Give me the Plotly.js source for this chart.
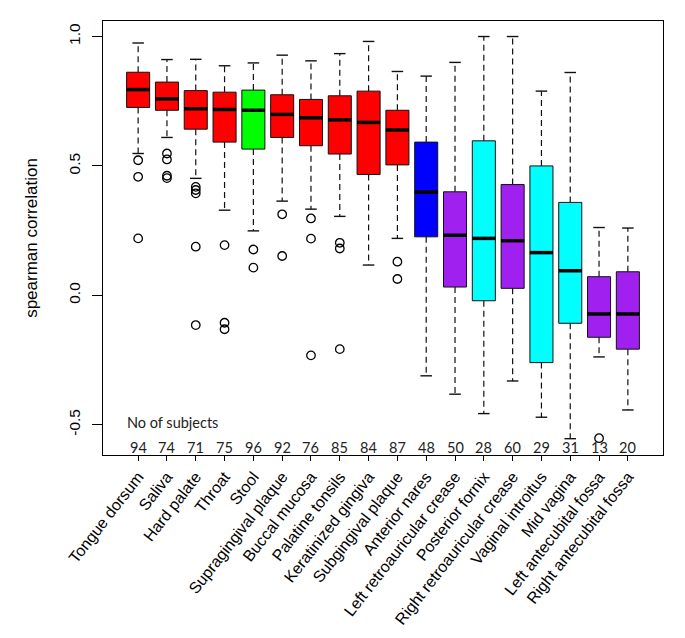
<!DOCTYPE html>
<html>
<head>
<meta charset="utf-8">
<script src="https://cdn.plot.ly/plotly-3.0.1.min.js"></script>
<style>html,body{margin:0;padding:0;background:#fff;}#chart{width:685px;height:638px;}</style>
</head>
<body>
<div id="chart"></div>
<script>
// ---- Data ----
const categories = ["Tongue dorsum","Saliva","Hard palate","Throat","Stool","Supragingival plaque",
  "Buccal mucosa","Palatine tonsils","Keratinized gingiva","Subgingival plaque","Anterior nares",
  "Left retroauricular crease","Posterior fornix","Right retroauricular crease","Vaginal introitus",
  "Mid vagina","Left antecubital fossa","Right antecubital fossa"];
const upperWhisker = [0.975,0.911,0.912,0.887,0.898,0.928,0.906,0.934,0.981,0.865,0.847,0.900,1.000,1.000,0.789,0.861,0.262,0.260];
const q3Values     = [0.862,0.824,0.791,0.785,0.793,0.775,0.757,0.771,0.789,0.715,0.592,0.400,0.597,0.428,0.500,0.359,0.072,0.091];
const medianValues = [0.795,0.759,0.721,0.718,0.715,0.699,0.686,0.678,0.668,0.639,0.399,0.232,0.220,0.211,0.165,0.095,-0.072,-0.072];
const q1Values     = [0.726,0.715,0.642,0.592,0.565,0.610,0.578,0.546,0.467,0.504,0.226,0.032,-0.021,0.027,-0.260,-0.108,-0.162,-0.208];
const lowerWhisker = [0.548,0.610,0.452,0.329,0.249,0.364,0.333,0.305,0.117,0.220,-0.311,-0.382,-0.457,-0.331,-0.471,-0.554,-0.238,-0.443];
const outliers = [
  [0.522,0.458,0.220],
  [0.548,0.525,0.462,0.453],
  [0.419,0.407,0.394,0.188,-0.115],
  [0.194,-0.106,-0.131],
  [0.177,0.107],
  [0.313,0.152],
  [0.297,0.219,-0.232],
  [0.203,0.181,-0.208],
  [],
  [0.130,0.063],
  [],[],[],[],[],[],
  [-0.552],
  []
];
const subjectCounts = [94,74,71,75,96,92,76,85,84,87,48,50,28,60,29,31,13,20];
const yTickValues = [-0.5,0.0,0.5,1.0];

// ---- Styles ----
const RED="#FF0000", GREEN="#00FF00", BLUE="#0000FF", PURPLE="#A020F0", CYAN="#00FFFF";
const boxColors = [RED,RED,RED,RED,GREEN,RED,RED,RED,RED,RED,BLUE,PURPLE,CYAN,PURPLE,CYAN,CYAN,PURPLE,PURPLE];
const BOXW = 0.8, CAPW = 0.4;

const pos = categories.map((c,i)=>i+1);
const traces = [];

// boxes (whiskers drawn separately, dashed)
categories.forEach((c,i)=>{
  traces.push({
    type:'box', x:[pos[i]], q1:[q1Values[i]], median:[medianValues[i]], q3:[q3Values[i]],
    lowerfence:[q1Values[i]], upperfence:[q3Values[i]],
    width:BOXW, fillcolor:boxColors[i], line:{color:'#111', width:1},
    boxpoints:false, whiskerwidth:0, hoverinfo:'skip', showlegend:false
  });
});

// dashed whiskers
const wx=[], wy=[];
categories.forEach((c,i)=>{
  wx.push(pos[i],pos[i],null,pos[i],pos[i],null);
  wy.push(q3Values[i],upperWhisker[i],null,q1Values[i],lowerWhisker[i],null);
});
traces.push({type:'scatter',mode:'lines',x:wx,y:wy,line:{color:'#111',width:1.2,dash:'6px,4px'},hoverinfo:'skip',showlegend:false});

// staples
const sx=[], sy=[];
categories.forEach((c,i)=>{
  sx.push(pos[i]-CAPW/2,pos[i]+CAPW/2,null,pos[i]-CAPW/2,pos[i]+CAPW/2,null);
  sy.push(upperWhisker[i],upperWhisker[i],null,lowerWhisker[i],lowerWhisker[i],null);
});
traces.push({type:'scatter',mode:'lines',x:sx,y:sy,line:{color:'#111',width:1.4},hoverinfo:'skip',showlegend:false});

// thick medians
const mx=[], my=[];
categories.forEach((c,i)=>{
  mx.push(pos[i]-BOXW/2,pos[i]+BOXW/2,null);
  my.push(medianValues[i],medianValues[i],null);
});
traces.push({type:'scatter',mode:'lines',x:mx,y:my,line:{color:'#000',width:3.5},hoverinfo:'skip',showlegend:false});

// outliers
const ox=[], oy=[];
outliers.forEach((arr,i)=>arr.forEach(v=>{ox.push(pos[i]); oy.push(v);}));
traces.push({type:'scatter',mode:'markers',x:ox,y:oy,cliponaxis:false,
  marker:{symbol:'circle-open',size:8.5,color:'#000',line:{width:1.3,color:'#000'}},hoverinfo:'skip',showlegend:false});

// annotations: counts
const annotations = subjectCounts.map((n,i)=>({
  x:pos[i], y:-0.588, xref:'x', yref:'y', text:String(n), showarrow:false,
  font:{family:'Lato, "Open Sans", sans-serif', size:14.5, color:'#222'}
}));
annotations.push({x:0.55, y:-0.493, xref:'x', yref:'y', xanchor:'left', text:'No of subjects', showarrow:false,
  font:{family:'Lato, "Open Sans", sans-serif', size:14.5, color:'#222'}});

const layout = {
  width:685, height:638,
  margin:{l:103, r:22, t:21, b:183},
  paper_bgcolor:'#fff', plot_bgcolor:'#fff',
  showlegend:false,
  font:{family:'"Liberation Sans", Arial, sans-serif', color:'#000'},
  xaxis:{
    range:[-0.22,19.22], tickmode:'array', tickvals:pos, ticktext:categories,
    tickangle:-52, ticks:'outside', ticklen:5, tickwidth:1, tickcolor:'#000',
    tickfont:{size:16, family:'"Liberation Sans", Arial, sans-serif', color:'#000'},
    showgrid:false, zeroline:false, showline:true, mirror:true, linecolor:'#000', linewidth:1.2
  },
  yaxis:{
    range:[-0.617,1.06], tickmode:'array', tickvals:yTickValues, ticktext:yTickValues.map(v=>v.toFixed(1)),
    tickangle:-90, ticks:'outside', ticklen:10, tickwidth:1, tickcolor:'#000', ticklabelstandoff:6,
    tickfont:{size:15.5, family:'"Liberation Sans", Arial, sans-serif', color:'#000'},
    showgrid:false, zeroline:false, showline:true, mirror:true, linecolor:'#000', linewidth:1.2,
    title:{text:'spearman correlation', font:{size:17, family:'"Liberation Sans", Arial, sans-serif', color:'#000'}, standoff:23}
  },
  annotations:annotations
};

Plotly.newPlot('chart', traces, layout, {staticPlot:true, displayModeBar:false});
</script>
</body>
</html>
